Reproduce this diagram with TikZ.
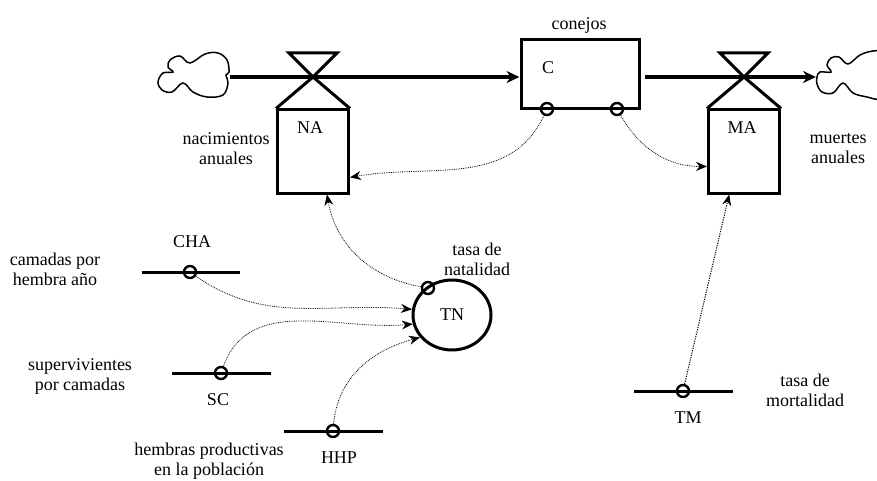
\documentclass[tikz,border=0pt]{standalone}
\usepackage{fontspec}
\setmainfont{Liberation Serif}
\usetikzlibrary{positioning}
\usetikzlibrary{arrows.meta}
\usetikzlibrary{calc}
\usetikzlibrary{shapes.geometric}

\begin{document}
\begin{tikzpicture}[ x                 = 1pt
                   , y                 = 1pt
                   , font              = \fontsize{18}{20}\selectfont
                   , every node/.style = { inner sep = 0pt
                                         , align     = center
                                         }
                   % Use stealth style arrows
                   , >={Stealth[length=11pt, width=9pt]}
                   ]
  \useasboundingbox (0,0) rectangle (877,480);

  %%
  %% Node types
  %%
  \tikzset{ stock/.style={rectangle, draw, line width=3pt, minimum width=118pt, minimum height=69pt}
          , rate/.style={rectangle, draw, line width=3pt, minimum width=71pt, minimum height=83pt}
          , conv/.style={ellipse, draw, line width=3pt, minimum width=78pt, minimum height=70pt}
          , port/.style={circle, draw, line width=2.4pt, minimum size=12pt}
          }

  %%
  %% Line types
  %%
  \tikzset{ flow/.style={-{Stealth[length=13pt, width=12pt]}, line width=4pt}
          , info/.style={->, line width=0.8pt, dash pattern=on 0.8pt off 1pt}
          , const/.style={line width=3pt}
          , valve/.style={line width=3pt, line join=miter}
          , blob/.style={line width=1.5pt}
          }

  %%
  %% Nodes
  %%
  \node (c)  [stock] at (580,405.5) {};
  \node (na) [rate ] at (313,328.5) {};
  \node (ma) [rate ] at (744,328.5) {};
  \node (tn) [conv ] at (452,165)   {TN};

  \node (cin)  [port] at (547,371) {};
  \node (cout) [port] at (617,371) {};
  \node (tnc)  [port] at (428,192) {};
  \node (cha)  [port] at (190,208) {};
  \node (sc)   [port] at (221,107) {};
  \node (hhp)  [port] at (333,49)  {};
  \node (tm)   [port] at (683,89)  {};

  \coordinate (srcL)  at (230,403);
  \coordinate (sinkR) at (816,403);
  \coordinate (naX)   at (313,403);
  \coordinate (maX)   at (744,403);

  %%% Labels
  \node (cTxt)   at (548,412) {C};
  \node (cLbl)   at (579,455) {conejos};
  \node (naTxt)  at (310,352) {NA};
  \node (naLbl)  at (226,331) {nacimientos\\anuales};
  \node (maTxt)  at (742,352) {MA};
  \node (maLbl)  at (838,331) {muertes\\anuales};
  \node (tnLbl)  at (477,221) {tasa de\\natalidad};
  \node (chaTxt) at (192,238) {CHA};
  \node (chaLbl) at (55,211)  {camadas por\\hembra año};
  \node (scTxt)  at (218,80)  {SC};
  \node (scLbl)  at (80,104)  {supervivientes\\por camadas};
  \node (hhpTxt) at (339,22)  {HHP};
  \node (hhpLbl) at (209,19)  {hembras productivas\\en la población};
  \node (tmTxt)  at (688,62)  {TM};
  \node (tmLbl)  at (805,90)  {tasa de\\mortalidad};

  %%
  %% Clouds
  %%
  \draw[blob] plot[smooth cycle, tension=0.6] coordinates
    { (229,408) (227,420) (218,427) (205,426) (190,417) (180,424) (170,420)
      (168,413) (173,408) (163,407) (158,398) (162,390) (172,388) (183,397)
      (193,388) (207,383) (223,385) (228,397) (226,405) };
  \draw[blob] plot[smooth cycle, tension=0.6] coordinates
    { (817,403) (820,408) (831,408) (827,415) (831,422) (839,423) (848,416)
      (860,425) (873,429) (883,428) (893,420) (893,390) (880,381) (867,383)
      (853,387) (843,397) (833,387) (822,388) (817,396) };

  %%
  %% Flows
  %%
  \draw[flow] (srcL) -- (srcL -| c.west);
  \draw[flow, shorten <=4pt] (c.east |- sinkR) -- (sinkR);

  %%% Valves
  \draw[valve] (na.north west) -- (naX) -- ++(24,24) -- ++(-48,0) -- (naX) -- (na.north east);
  \draw[valve] (ma.north west) -- (maX) -- ++(24,24) -- ++(-48,0) -- (maX) -- (ma.north east);

  %%% Constants
  \draw[const] ($(cha)+(-48,0)$) -- ($(cha)+(50,0)$);
  \draw[const] ($(sc)+(-49,0)$)  -- ($(sc)+(50,0)$);
  \draw[const] ($(hhp)+(-49,0)$) -- ($(hhp)+(50,0)$);
  \draw[const] ($(tm)+(-49,0)$)  -- ($(tm)+(50,0)$);

  %%
  %% Links
  %%
  \draw[info] (cin)  to[out=-115, in=10]  (na.-35);
  \draw[info] (cout) to[out=-60,  in=180] (ma.202);
  \draw[info] (tnc)  to[out=170,  in=-80] (na.-72);
  \draw[info] (cha)  to[out=-35,  in=175] (tn.172);
  \draw[info] (sc)   to[out=70,   in=185] (tn.193);
  \draw[info] (hhp)  to[out=85,   in=195] (tn.215);
  \draw[info, line width=1pt, dash pattern=on 1.2pt off 1.2pt] (tm) -- (ma.-109);

\end{tikzpicture}
\end{document}
